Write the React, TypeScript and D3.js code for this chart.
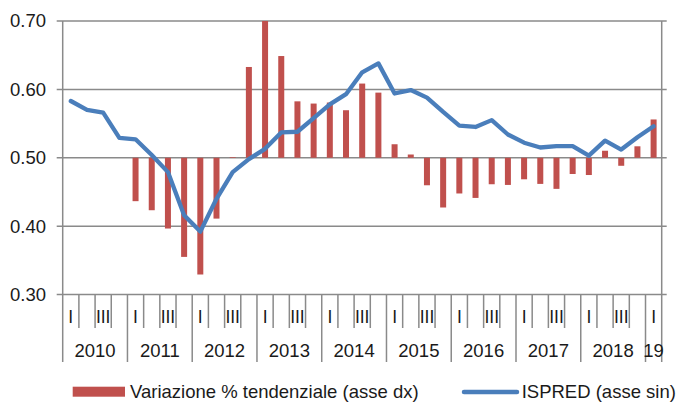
import React from "react";
import * as d3 from "d3";

const years = ["2010", "2011", "2012", "2013", "2014", "2015", "2016", "2017", "2018", "19"];
const quarterLabels = ["I", "", "III", ""];
const leftTicks = [0.3, 0.4, 0.5, 0.6, 0.7];

// ISPRED (left axis)
const ispred = [
  0.583, 0.570, 0.566, 0.529, 0.527, 0.504, 0.479, 0.416,
  0.392, 0.440, 0.479, 0.498, 0.513, 0.537, 0.538, 0.558,
  0.578, 0.593, 0.625, 0.638, 0.594, 0.599, 0.588, 0.567,
  0.547, 0.545, 0.555, 0.534, 0.522, 0.515, 0.517, 0.517,
  0.503, 0.525, 0.512, 0.530, 0.546,
];

// Variazione % tendenziale (right axis, hidden); null = not available
const variazione: (number | null)[] = [
  null, null, null, null, -25.4, -30.7, -41.4, -58.0,
  -68.3, -35.6, 0.4, 53.1, 80.0, 59.5, 33.0, 31.7,
  32.3, 27.8, 43.4, 38.1, 7.9, 1.9, -16.1, -29.1,
  -20.9, -23.5, -15.5, -15.9, -12.6, -15.3, -18.2, -9.5,
  -10.1, 4.1, -4.7, 6.7, 22.4,
];

const W = 677;
const H = 403;
const X0 = 62.7;
const X1 = 661.7;
const YT = 21;
const YB = 294.5;
const FONT = "'Liberation Sans', Arial, sans-serif";
const TXT = "#1a1a1a";
const GRID = "#8a8a8a";
const RED = "#C0504D";
const BLUE = "#4A7EBB";

export default function App() {
  const n = ispred.length;
  const idx = d3.range(n);
  const x = d3.scaleBand<number>().domain(idx).range([X0, X1]).padding(0);
  const bw = x.bandwidth();
  const cx = (i: number) => (x(i) as number) + bw / 2;
  const y = d3.scaleLinear().domain([0.3, 0.7]).range([YB, YT]);
  const yR = d3.scaleLinear().domain([-80, 80]).range([YB, YT]);
  const line = d3
    .line<number>()
    .x((_, i) => cx(i))
    .y((d) => y(d))
    .curve(d3.curveLinear);
  const barW = 6;

  return (
    <svg
      width={W}
      height={H}
      style={{ position: "absolute", left: 0, top: 0, background: "#fff" }}
      fontFamily={FONT}
    >
      {/* gridlines */}
      {leftTicks.map((t) => (
        <line key={t} x1={56.7} x2={666.7} y1={y(t)} y2={y(t)} stroke={GRID} strokeWidth={1.5} />
      ))}
      {/* left axis + right border */}
      <line x1={X0} x2={X0} y1={YT} y2={362} stroke={GRID} strokeWidth={1.5} />
      <line x1={X1} x2={X1} y1={YT} y2={362} stroke={GRID} strokeWidth={1.5} />
      {/* quarter ticks */}
      {d3.range(1, n).map((i) => (
        <line
          key={i}
          x1={x(i) as number}
          x2={x(i) as number}
          y1={YB}
          y2={i % 4 === 0 ? 362 : 328}
          stroke={GRID}
          strokeWidth={1.5}
        />
      ))}
      {/* left tick labels */}
      {leftTicks.map((t) => (
        <text key={t} x={46} y={y(t)} dy="0.35em" textAnchor="end" fontSize={18.5} fill={TXT}>
          {t.toFixed(2)}
        </text>
      ))}
      {/* bars */}
      {variazione.map((v, i) =>
        v === null ? null : (
          <rect
            key={i}
            x={cx(i) - barW / 2}
            width={barW}
            y={Math.min(yR(v), yR(0))}
            height={Math.abs(yR(v) - yR(0))}
            fill={RED}
          />
        )
      )}
      {/* line */}
      <path d={line(ispred) as string} fill="none" stroke={BLUE} strokeWidth={4.3} strokeLinejoin="round" strokeLinecap="round" />
      {/* quarter labels */}
      {idx.map((i) =>
        quarterLabels[i % 4] ? (
          <text key={i} x={cx(i)} y={323.3} textAnchor="middle" fontSize={17.5} fill={TXT}>
            {quarterLabels[i % 4]}
          </text>
        ) : null
      )}
      {/* year labels */}
      {years.map((yr, k) => {
        const start = x(k * 4) as number;
        const endIdx = Math.min(k * 4 + 3, n - 1);
        const end = (x(endIdx) as number) + bw;
        return (
          <text key={yr} x={(start + end) / 2} y={356.5} textAnchor="middle" fontSize={18.5} fill={TXT}>
            {yr}
          </text>
        );
      })}
      {/* legend */}
      <rect x={72.7} y={386.7} width={52.3} height={10} fill={RED} />
      <text x={130} y={397.5} fontSize={18.5} fill={TXT}>
        Variazione % tendenziale (asse dx)
      </text>
      <line x1={464} x2={517} y1={392} y2={392} stroke={BLUE} strokeWidth={4.5} strokeLinecap="round" />
      <text x={521.7} y={397.5} fontSize={18.5} fill={TXT}>
        ISPRED (asse sin)
      </text>
    </svg>
  );
}
